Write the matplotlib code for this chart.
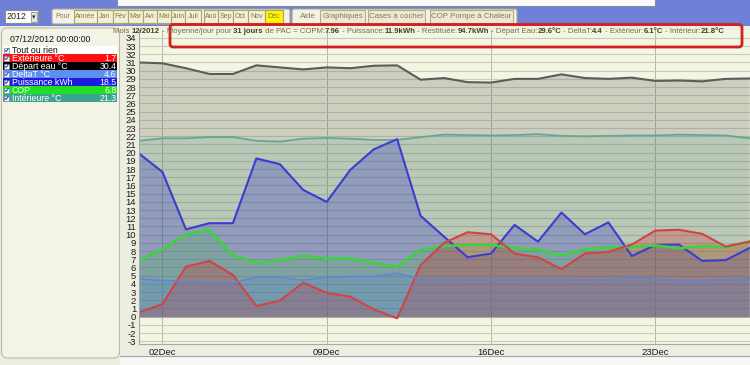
import matplotlib
matplotlib.use('Agg')
import matplotlib.pyplot as plt
from matplotlib.patches import Rectangle, FancyBboxPatch
from matplotlib import font_manager
import numpy as np

# ---------------- data (December 2012, one value per day) ----------------
days = list(range(1, 28))
depart_eau = [31.0, 30.9, 30.3, 29.6, 29.6, 30.65, 30.4, 30.15, 30.4, 30.3, 30.6, 30.65, 28.9, 29.1,
              28.6, 28.55, 29.0, 29.0, 29.55, 29.1, 29.0, 29.15, 28.75, 28.8, 28.7, 29.0, 29.05]
interieure = [21.45, 21.75, 21.75, 21.9, 21.9, 21.45, 21.35, 21.7, 21.8, 21.7, 21.55, 21.55, 21.9, 22.2,
              22.15, 22.1, 22.15, 22.25, 22.05, 22.0, 22.05, 22.1, 22.1, 22.2, 22.15, 22.1, 21.75]
puissance = [19.9, 17.65, 10.65, 11.4, 11.4, 19.3, 18.6, 15.45, 14.0, 17.9, 20.4, 21.65, 12.3, 9.75,
             7.25, 7.7, 11.2, 9.15, 12.7, 10.05, 11.5, 7.4, 8.75, 8.8, 6.8, 6.9, 8.35]
cop = [6.9, 8.2, 10.05, 10.6, 7.5, 6.6, 6.9, 7.45, 7.1, 7.1, 6.6, 6.1, 8.15, 8.6,
       8.75, 8.75, 8.35, 8.2, 7.5, 8.2, 8.5, 8.5, 8.7, 8.35, 8.6, 8.5, 9.15]
exterieure = [0.5, 1.55, 6.1, 6.8, 5.1, 1.3, 1.95, 4.15, 2.9, 2.45, 0.9, -0.2, 6.3, 9.0,
              10.3, 10.05, 7.7, 7.25, 5.8, 7.7, 7.9, 8.8, 10.5, 10.6, 10.1, 8.55, 9.15]
deltat = [4.6, 4.4, 4.3, 4.2, 4.15, 4.8, 4.8, 4.45, 4.8, 4.9, 4.9, 5.3, 4.6, 4.65,
          4.55, 4.55, 4.55, 4.6, 4.65, 4.45, 4.55, 4.8, 4.6, 4.4, 4.4, 4.5, 4.65]

xtick_days = [2, 9, 16, 23]
xtick_labels = ['02Dec', '09Dec', '16Dec', '23Dec']

legend_names = ['Extérieure °C', 'Départ eau °C', 'DeltaT °C', 'Puissance kWh', 'COP', 'Intérieure °C']
legend_values = ['1.7', '30.4', '4.6', '18.5', '6.8', '21.3']
legend_colors = ['#ff1010', '#000000', '#5c8ff0', '#1c1ce0', '#1ee01e', '#3fa392']

months = ['Année', 'Jan', 'Fév', 'Mar', 'Avr', 'Mai', 'Juin', 'Juil', 'Aoû', 'Sep', 'Oct', 'Nov', 'Déc']
tabs = ['Aide', 'Graphiques', 'Cases à cocher', 'COP Pompe à Chaleur']

header_parts = [('Mois ', False), ('12/2012', True), (' - Moyenne/jour pour ', False), ('31 jours', True),
                (' de PAC = COPM:', False), ('7.96', True), (' - Puissance:', False), ('11.9kWh', True),
                (' - Restituée:', False), ('94.7kWh', True), (' - Départ Eau:', False), ('29.6°C', True),
                (' - DeltaT:', False), ('4.4', True), (' - Extérieur:', False), ('6.1°C', True),
                (' - Intérieur:', False), ('21.8°C', True)]

installed = {f.name for f in font_manager.fontManager.ttflist}
base = 'Liberation Sans Narrow' if 'Liberation Sans Narrow' in installed else 'Liberation Sans'
plt.rcParams['font.family'] = [base, 'DejaVu Sans']

W, H = 750, 365
fig = plt.figure(figsize=(7.5, 3.65), dpi=100)
fig.patch.set_facecolor('#eeeee0')

# ---------------- chart ----------------
top_px, bot_px, left_px = 30, 344, 139
ax = fig.add_axes([left_px / W, 1 - bot_px / H, (W - left_px) / W, (bot_px - top_px) / H])
ax.set_facecolor('#f3f6e3')
ax.set_axisbelow(True)
x = np.array(days)

series = [
    (depart_eau, '#56605a', '#6a6a60', 0.28, 1.5),
    (interieure, '#62a898', '#3f9a88', 0.13, 1.3),
    (puissance, '#3c3cd0', '#2a2ac8', 0.28, 1.5),
    (cop, '#3ed23e', '#30c030', 0.18, 1.9),
    (exterieure, '#d24444', '#d03030', 0.30, 1.5),
    (deltat, '#5a86dc', '#4a7ae0', 0.20, 1.1),
]
for vals, lc, fc, a, lw in series:
    ax.fill_between(x, 0, vals, color=fc, alpha=a, lw=0)
for vals, lc, fc, a, lw in series:
    ax.plot(x, vals, color=lc, lw=lw, solid_joinstyle='round')

ax.set_xlim(1, 1 + (W - left_px) / 23.47)
ax.set_ylim(-3.33, 34.96)
ax.set_yticks(range(-3, 35))
ax.set_yticklabels([str(v) for v in range(-3, 35)])
ax.set_xticks(xtick_days)
ax.set_xticklabels(xtick_labels)
ax.yaxis.grid(True, color='#c9cbbd', lw=0.8)
ax.xaxis.grid(True, color='#b2b6aa', lw=0.7)
ax.tick_params(length=0, labelsize=6.8, colors='#1a1a1a')
ax.tick_params(axis='y', pad=2)
ax.tick_params(axis='x', pad=3)
for s in ['top', 'right']:
    ax.spines[s].set_visible(False)
for s in ['left', 'bottom']:
    ax.spines[s].set_color('#a4aaa8')
    ax.spines[s].set_linewidth(0.8)

# ---------------- UI overlay ----------------
ov = fig.add_axes([0, 0, 1, 1])
ov.set_xlim(0, W)
ov.set_ylim(H, 0)
ov.axis('off')
ov.patch.set_alpha(0)
ov.set_zorder(5)

fig.canvas.draw()
renderer = fig.canvas.get_renderer()


def fit(t, maxw):
    w = t.get_window_extent(renderer).width
    if w > maxw:
        t.set_fontsize(t.get_fontsize() * maxw / w)
    return t


def fit_group(texts, widths):
    size = min(fit(t, w).get_fontsize() for t, w in zip(texts, widths))
    for t in texts:
        t.set_fontsize(size)


ov.add_patch(Rectangle((0, 0), W, 25.5, fc='#6f80d8', ec='none'))
ov.add_patch(Rectangle((117, -2), 538, 8, fc='#fbfbfb', ec='#7f8aa0', lw=0.8))

# year combo
ov.add_patch(Rectangle((5, 10), 33, 13, fc='white', ec='#8c8c8c', lw=0.8))
fit(ov.text(17, 16.5, '2012', fontsize=6.5, ha='center', va='center', color='#222222'), 22)
ov.add_patch(Rectangle((31, 11.5), 6, 10, fc='#e4e4e4', ec='#909090', lw=0.6))
ov.text(34, 17, '▾', fontsize=5, ha='center', va='center', color='#333333', family='DejaVu Sans')

# month group
ov.add_patch(FancyBboxPatch((52, 9), 238, 15, boxstyle='round,pad=0,rounding_size=2',
                            fc='#f3f2e6', ec='#a9a894', lw=0.8))
month_x = [74, 97, 113, 128, 143, 157, 171, 185, 201, 218, 233, 248, 265, 283]
mtexts, mwidths = [ov.text(62.5, 16.5, 'Pour', fontsize=6.4, ha='center', va='center', color='#8a7a40')], [17]
for i, m in enumerate(months):
    x0, x1 = month_x[i], month_x[i + 1]
    if m == 'Aoû':
        x0 = 203.5
    fc = '#fff600' if m == 'Déc' else '#f2f0dc'
    ov.add_patch(Rectangle((x0, 10), x1 - x0, 13, fc=fc, ec='#b0a260', lw=0.8))
    mtexts.append(ov.text((x0 + x1) / 2, 16.5, m, fontsize=6.4, ha='center', va='center', color='#8a7a30'))
    mwidths.append(x1 - x0 - 1)
fit_group(mtexts, mwidths)

# tabs group
ov.add_patch(FancyBboxPatch((292, 9), 225, 15, boxstyle='round,pad=0,rounding_size=2',
                            fc='#f3f2e6', ec='#a9a894', lw=0.8))
tab_x = [(297, 318), (320, 365), (368, 425), (430, 513)]
ttexts, twidths = [], []
for (x0, x1), t in zip(tab_x, tabs):
    fc = '#f3f2e6' if t == 'Aide' else '#ece9d8'
    ec = '#f3f2e6' if t == 'Aide' else '#b8ad80'
    ov.add_patch(Rectangle((x0, 10), x1 - x0, 13, fc=fc, ec=ec, lw=0.8))
    ttexts.append(ov.text((x0 + x1) / 2, 16.5, t, fontsize=6.4, ha='center', va='center', color='#8a7a40'))
    twidths.append(x1 - x0 - 2)
fit_group(ttexts, twidths)

# left panel
ov.add_patch(FancyBboxPatch((1.5, 28), 118, 330, boxstyle='round,pad=0,rounding_size=6',
                            fc='#f4f4e6', ec='#b8bca6', lw=0.8))
fit(ov.text(50, 40, '07/12/2012 00:00:00', fontsize=6.5, ha='center', va='center', color='#111111'), 80)


def row(y, name, value, bg, fg):
    ov.add_patch(Rectangle((3, y), 114, 8, fc=bg, ec='none'))
    ov.add_patch(Rectangle((4, y + 1.5), 5, 5, fc='white', ec='#7a8aa8', lw=0.5))
    ov.plot([5, 6.3, 8.3], [y + 4.2, y + 5.6, y + 2.4], color='#2a3f9a', lw=0.7)
    ov.text(12, y + 4.2, name, fontsize=6.3, ha='left', va='center', color=fg)
    if value:
        ov.text(116.5, y + 4.2, value, fontsize=6.3, ha='right', va='center', color=fg)


row(46, 'Tout ou rien', '', 'white', '#111111')
for k, (n, v, c) in enumerate(zip(legend_names, legend_values, legend_colors)):
    row(54 + 8 * k, n, v, c, 'white')

# header text with mixed weights, spanning the same width as in the reference
hx0, hx1, hy = 113, 733, 31.5
fs = 6.0
arts = []
for t, b in header_parts:
    arts.append(ov.text(0, hy, t, fontsize=fs, ha='left', va='center',
                        fontweight='bold' if b else 'normal',
                        color='#4a4012' if b else '#7a6c3a'))
tot = sum(a.get_window_extent(renderer).width for a in arts)
scale = (hx1 - hx0) / tot
for a in arts:
    a.set_fontsize(fs * scale)
cur = hx0
for a in arts:
    a.set_x(cur)
    cur += a.get_window_extent(renderer).width

ov.add_patch(FancyBboxPatch((170, 24.5), 572, 22.5, boxstyle='round,pad=0,rounding_size=3',
                            fill=False, ec='#d41f1f', lw=2))

# bottom strip
ov.add_patch(Rectangle((120, 356), W - 120, 10, fc='#f7f7f3', ec='none'))
ov.plot([120, W], [356, 356], color='#9aa6b8', lw=0.8)

fig.savefig('out.png', dpi=100, facecolor=fig.get_facecolor())
